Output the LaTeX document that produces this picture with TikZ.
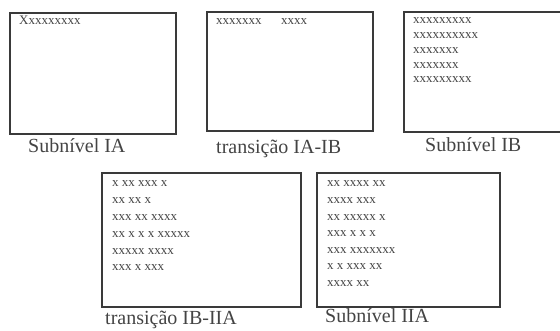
\documentclass[tikz,border=0pt]{standalone}
\usepackage{fontspec}
\setmainfont{Liberation Serif}
\definecolor{linec}{HTML}{3A3A3A}
\definecolor{textc}{HTML}{444444}
\tikzset{
  box/.style={draw=linec, line width=1.4pt, inner sep=0pt, fill=none},
  small/.style={anchor=base west, inner sep=0pt, text=textc, font=\fontsize{13}{15}\selectfont},
  label/.style={anchor=base west, inner sep=0pt, text=textc, font=\fontsize{20}{22}\selectfont}
}
\begin{document}
\begin{tikzpicture}[x=1pt, y=-1pt]
\useasboundingbox (0,0) rectangle (560,331);
\clip (0,0) rectangle (560,331);
% boxes
\node[box, minimum width=166pt, minimum height=121pt] (b1) at (93,73.5) {};
\node[box, minimum width=166pt, minimum height=119pt] (b2) at (290,71.5) {};
\node[box, minimum width=160pt, minimum height=120pt] (b3) at (484,72) {};
\node[box, minimum width=199pt, minimum height=134pt] (b4) at (201.5,240) {};
\node[box, minimum width=183pt, minimum height=134pt] (b5) at (408.5,240) {};
% box 1
\node[small] (t1) at (19,25) {Xxxxxxxxx};
% box 2
\node[small] (t2a) at (216,25) {xxxxxxx};
\node[small] (t2b) at (281,25) {xxxx};
% box 3
\foreach \s [count=\i] in {xxxxxxxxx,xxxxxxxxxx,xxxxxxx,xxxxxxx,xxxxxxxxx}
  \node[small] (t3-\i) at (413,{24+(\i-1)*14.75}) {\s};
% box 4
\foreach \s [count=\i] in {x xx xxx x,xx xx x,xxx xx xxxx,xx x x x xxxxx,xxxxx xxxx,xxx x xxx}
  \node[small] (t4-\i) at (112,{187+(\i-1)*16.8}) {\s};
% box 5
\foreach \s [count=\i] in {xx xxxx xx,xxxx xxx,xx xxxxx x,xxx x x x,xxx xxxxxxx,x x xxx xx,xxxx xx}
  \node[small] (t5-\i) at (327,{187+(\i-1)*16.6}) {\s};
% labels
\node[label] (l1) at (28,153) {Subnível IA};
\node[label] (l2) at (216,154) {transição IA-IB};
\node[label] (l3) at (425,152) {Subnível IB};
\node[label] (l4) at (105,324) {transição IB-IIA};
\node[label] (l5) at (325,323) {Subnível IIA};
\end{tikzpicture}
\end{document}
